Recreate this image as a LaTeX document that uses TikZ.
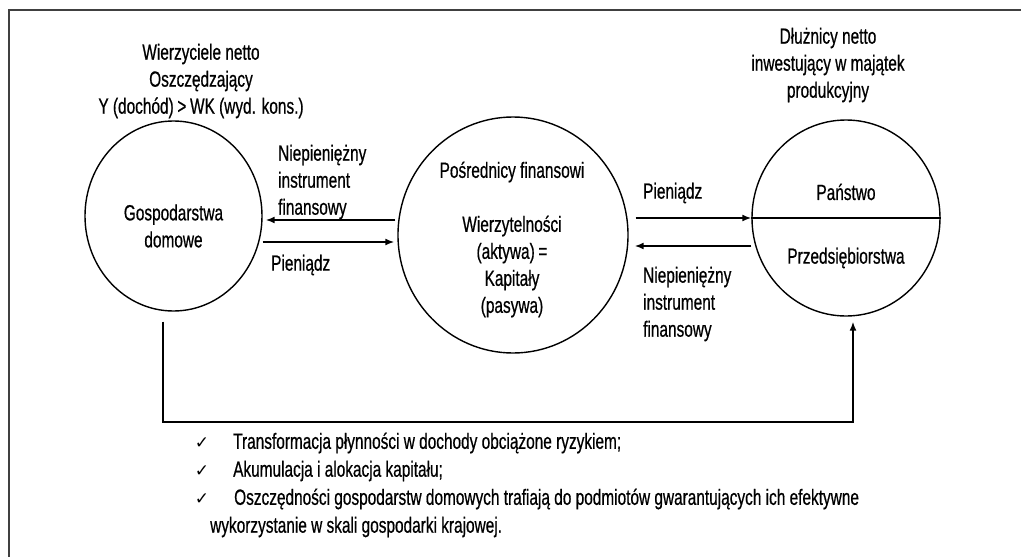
\documentclass[tikz,border=0pt]{standalone}
\usepackage{fontspec}
\setmainfont{Liberation Sans}[FakeStretch=0.70,FakeBold=0.6]
\newfontfamily\symfont{DejaVu Sans}
\usetikzlibrary{shapes.geometric,arrows.meta,calc}

\begin{document}
\begin{tikzpicture}[x=1pt,y=-1pt,
  txt/.style={inner sep=0pt, font=\fontsize{22}{27}\selectfont, align=center},
  txtl/.style={txt, align=left, anchor=west},
  agent/.style={draw, ellipse, line width=1.4pt, inner sep=0pt},
  arr/.style={line width=1.6pt, -{Latex[length=9pt,width=7pt]}},
  frameline/.style={line width=1.5pt, draw=black!75},
  tick/.style={inner sep=0pt, font=\symfont\fontsize{17}{17}\selectfont}]
\useasboundingbox (0,0) rectangle (1021,557);

% outer frame (open to the right and bottom)
\draw[frameline] (9,557) -- (9,10) -- (1021,10);

% sectors
\node[agent, minimum width=177pt, minimum height=190pt] (hh)  at (173.5,216) {};
\node[agent, minimum width=230pt, minimum height=236pt] (fi)  at (513,235) {};
\node[agent, minimum width=188pt, minimum height=196pt] (ent) at (846,218) {};
\draw[line width=1.1pt] (ent.west) -- (ent.east);

% texts inside the circles
\node[txt] (hhT) at (173.5,226) {Gospodarstwa\\domowe};
\node[txt] (fiT) at (512,239.5) {Pośrednicy finansowi\\[27pt]Wierzytelności\\(aktywa)\,=\\Kapitały\\(pasywa)};
\node[txt] (gov)  at (846,192) {Państwo};
\node[txt] (firm) at (846,258) {Przedsiębiorstwa};

% headings above the circles
\node[txt] (lenders) at (201,81) {Wierzyciele netto\\Oszczędzający\\Y (dochód)\,>\,WK (wyd. kons.)};
\node[txt] (debtors) at (828,65) {Dłużnicy netto\\inwestujący w majątek\\produkcyjny};

% flow labels
\node[txtl] (l1) at (278,182) {Niepieniężny\\instrument\\finansowy};
\node[txtl] (l2) at (271,265) {Pieniądz};
\node[txtl] (l3) at (643,193) {Pieniądz};
\node[txtl] (l4) at (643,304) {Niepieniężny\\instrument\\finansowy};

% flows between sectors
\draw[arr] ($(fi.west)+(-2,-15)$) -- ($(hh.east)+(3,4)$);
\draw[arr] ($(hh.east)+(0,26)$) -- ($(fi.west)+(-3,7)$);
\draw[arr] ($(fi.east)+(7,-17)$) -- (ent.west);
\draw[arr] ($(ent.west)+(0,28)$) -- ($(fi.east)+(6,11)$);

% direct channel from households to borrowers
\coordinate (loopA) at ($(hh.south)+(-10.5,10)$);
\coordinate (loopB) at ($(ent.south)+(7,5)$);
\draw[arr] (loopA) -- ++(0,100) -| (loopB);

% list of functions
\node[tick] (c1) at (202,443) {✓};
\node[txtl] (b1) at (233,443) {Transformacja płynności w dochody obciążone ryzykiem;};
\node[tick] (c2) at (202,471) {✓};
\node[txtl] (b2) at (233,471) {Akumulacja i alokacja kapitału;};
\node[tick] (c3) at (202,499) {✓};
\node[txtl] (b3) at (234,499) {Oszczędności gospodarstw domowych trafiają do podmiotów gwarantujących ich efektywne};
\node[txtl] (b4) at (210,527) {wykorzystanie w skali gospodarki krajowej.};
\end{tikzpicture}
\end{document}
